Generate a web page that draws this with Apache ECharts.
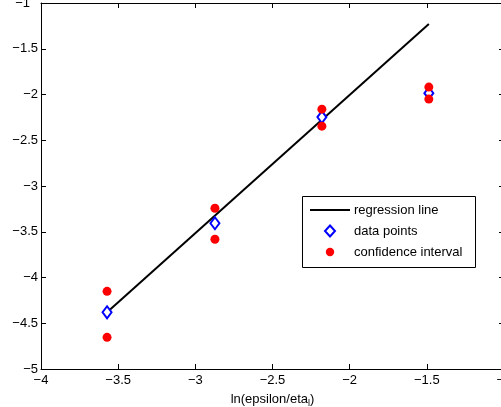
<!DOCTYPE html>
<html>
<head>
<meta charset="utf-8">
<script src="https://cdn.jsdelivr.net/npm/echarts@6/dist/echarts.min.js"></script>
<style>html,body{margin:0;padding:0;background:#fff;}#c{width:501px;height:407px;}</style>
</head>
<body>
<div id="c"></div>
<script>
var xPoints = [-3.572, -2.873, -2.180, -1.487];
var yPoints = [-4.38, -3.407, -2.247, -1.985];
var ciUpper = [-4.151, -3.243, -2.160, -1.919];
var ciLower = [-4.654, -3.582, -2.346, -2.050];
var regX = [-3.572, -1.487];
var regY = [-4.38, -1.23];
var xTicks = {min: -4, max: -1, interval: 0.5};
var yTicks = {min: -5, max: -1, interval: 0.5};
var legendNames = ['regression line', 'data points', 'confidence interval'];

var FONT = "'Liberation Sans', Arial, Helvetica, sans-serif";
function fmt(v) { return String(v).replace('-', '\u2212'); }

var dataPts = xPoints.map(function (x, i) { return [x, yPoints[i]]; });
var ciPts = [];
xPoints.forEach(function (x, i) { ciPts.push([x, ciUpper[i]]); ciPts.push([x, ciLower[i]]); });
var regPts = regX.map(function (x, i) { return [x, regY[i]]; });

var axisCommon = {
  type: 'value',
  axisLine: {show: true, onZero: false, lineStyle: {color: '#000', width: 1}},
  axisTick: {show: true, inside: true, length: 5, lineStyle: {color: '#000', width: 1}},
  splitLine: {show: false}
};

// legend box (drawn as graphics)
var LX = 302, LY = 196, LW = 173, LH = 71, ROW = 21;
var legendGraphics = [
  {type: 'rect', shape: {x: LX + 0.5, y: LY + 0.5, width: LW, height: LH}, style: {fill: '#fff', stroke: '#000', lineWidth: 1}, z: 100},
  {type: 'line', shape: {x1: LX + 8, y1: LY + 14, x2: LX + 48, y2: LY + 14}, style: {stroke: '#000', lineWidth: 2}, z: 101},
  {type: 'polygon', shape: {points: [[LX + 28, LY + 14 + ROW - 5.5], [LX + 33, LY + 14 + ROW], [LX + 28, LY + 14 + ROW + 5.5], [LX + 23, LY + 14 + ROW]]}, style: {fill: '#fff', stroke: '#0000ff', lineWidth: 2}, z: 101},
  {type: 'circle', shape: {cx: LX + 28, cy: LY + 14 + 2 * ROW, r: 4.2}, style: {fill: '#ff0000'}, z: 101}
];
legendNames.forEach(function (n, i) {
  legendGraphics.push({type: 'text', x: LX + 52, y: LY + 14 + i * ROW, style: {text: n, fill: '#000', font: '13px ' + FONT, verticalAlign: 'middle', align: 'left'}, z: 101});
});

var chart = echarts.init(document.getElementById('c'), null, {renderer: 'canvas'});
chart.setOption({
  animation: false,
  backgroundColor: '#fff',
  grid: {left: 41, top: 3, width: 463, height: 366, containLabel: false, outerBoundsMode: 'none'},
  xAxis: [
    Object.assign({}, axisCommon, {
      position: 'bottom', min: xTicks.min, max: xTicks.max, interval: xTicks.interval,
      axisLabel: {show: true, margin: 5, color: '#000', fontSize: 13, fontFamily: FONT, formatter: fmt, showMaxLabel: true, showMinLabel: true},
      name: 'ln(epsilon/eta{sub|l})', nameLocation: 'middle', nameGap: 21,
      nameTextStyle: {color: '#000', fontSize: 13, fontFamily: FONT,
        rich: {sub: {fontSize: 9, fontFamily: FONT, color: '#000', padding: [9, 0, 0, 0]}}}
    }),
    Object.assign({}, axisCommon, {
      position: 'top', min: xTicks.min, max: xTicks.max, interval: xTicks.interval,
      axisLabel: {show: false}
    })
  ],
  yAxis: [
    Object.assign({}, axisCommon, {
      position: 'left', min: yTicks.min, max: yTicks.max, interval: yTicks.interval,
      axisLabel: {show: true, margin: 3, color: '#000', fontSize: 13, fontFamily: FONT,
        formatter: function (v) { return v === -1 ? '{t|' + fmt(v) + '}' : fmt(v); },
        rich: {t: {fontSize: 13, fontFamily: FONT, color: '#000', padding: [0, 8, 0, 0]}},
        showMaxLabel: true, showMinLabel: true}
    }),
    Object.assign({}, axisCommon, {
      position: 'right', min: yTicks.min, max: yTicks.max, interval: yTicks.interval,
      axisLabel: {show: false}
    })
  ],
  graphic: legendGraphics,
  series: [
    {
      name: legendNames[0], type: 'line', data: regPts,
      symbol: 'none', lineStyle: {color: '#000', width: 2}, itemStyle: {color: '#000'}, z: 2
    },
    {
      name: legendNames[1], type: 'scatter', data: dataPts,
      symbol: 'diamond', symbolSize: [9, 12],
      itemStyle: {color: '#fff', borderColor: '#0000ff', borderWidth: 2, opacity: 1}, z: 3
    },
    {
      name: legendNames[2], type: 'scatter', data: ciPts,
      symbol: 'circle', symbolSize: 9,
      itemStyle: {color: '#ff0000', opacity: 1}, z: 4
    }
  ]
});
</script>
</body>
</html>
